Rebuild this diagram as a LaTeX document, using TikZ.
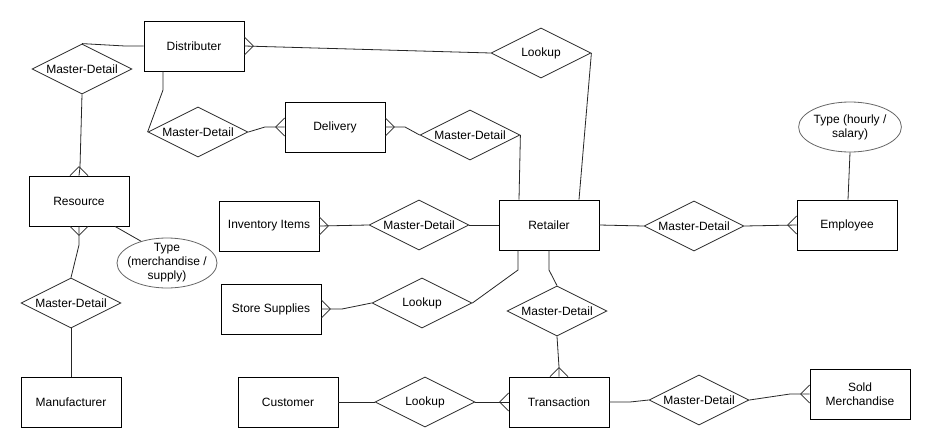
\documentclass[tikz,border=0pt]{standalone}
\usepackage{fontspec}
\setmainfont{Liberation Sans}
\usetikzlibrary{shapes.geometric,calc}
\newcommand\crowfoot[3]{\draw[conn] ($#1+#2$) -- ($#1+#3$) ($#1+#2$) -- ($#1-#3$);}
\begin{document}
\begin{tikzpicture}[x=1pt,y=-1pt,
  base/.style={font=\fontsize{12}{14}\selectfont, align=center, inner sep=0pt, line width=0.8pt},
  ent/.style={base, draw=black, rectangle, minimum width=100pt, minimum height=50pt},
  rel/.style={base, draw=black!85, diamond, aspect=2, minimum width=100pt, minimum height=50pt},
  attr/.style={base, draw=black!60, ellipse, minimum width=100pt, minimum height=50pt},
  conn/.style={draw=black!85, line width=0.8pt}]
\useasboundingbox[fill=white] (0,0) rectangle (949,447);
% entities
\node[ent] (dist) at (194,46) {Distributer};
\node[ent] (del) at (335,127) {Delivery};
\node[ent] (res) at (79,201) {Resource};
\node[ent] (man) at (71,402) {Manufacturer};
\node[ent] (inv) at (269,226) {Inventory Items};
\node[ent] (sto) at (271,309) {Store Supplies};
\node[ent] (cus) at (288,402) {Customer};
\node[ent] (ret) at (549,225) {Retailer};
\node[ent] (tra) at (559,402) {Transaction};
\node[ent] (emp) at (847,225) {Employee};
\node[ent] (sold) at (860,394) {Sold\\Merchandise};
% relationships
\node[rel] (md1) at (82,69) {Master-Detail};
\node[rel] (md2) at (198,132) {Master-Detail};
\node[rel] (lk1) at (541,53) {Lookup};
\node[rel] (md3) at (470,135) {Master-Detail};
\node[rel] (md4) at (419,225) {Master-Detail};
\node[rel] (lk2) at (422,303) {Lookup};
\node[rel] (md5) at (557,311) {Master-Detail};
\node[rel] (lk3) at (425,402) {Lookup};
\node[rel] (md6) at (694,226) {Master-Detail};
\node[rel] (md7) at (699,400) {Master-Detail};
\node[rel] (md8) at (71,303) {Master-Detail};
% attributes
\node[attr, inner xsep=-7.5pt, inner ysep=-4pt] (t1) at (167,263) {Type\\(merchandise /\\supply)};
\node[attr] (t2) at (850,127) {Type (hourly /\\salary)};
% bend points
\coordinate (b1) at (125,46);
\coordinate (b2) at (80,167);
\coordinate (b3) at (163,90);
\coordinate (b4) at (265,127);
\coordinate (b5) at (405,127);
\coordinate (b6) at (342,309);
\coordinate (b7) at (518,270);
\coordinate (b8) at (549,270);
\coordinate (b9) at (559,367);
\coordinate (b10) at (630,402);
\coordinate (b11) at (790,394);
\coordinate (b12) at (79,245);
% connectors
\draw[conn] (md1.north) -- (b1) -- (dist.west);
\draw[conn] (md1.south) -- (b2) -- (res.north);
\draw[conn] ([xshift=-31pt]dist.south) -- (b3) -- (md2.west);
\draw[conn] (md2.east) -- (b4) -- (del.west);
\draw[conn] (dist.east) -- (lk1.west);
\draw[conn] (lk1.east) -- ([xshift=30pt]ret.north);
\draw[conn] (del.east) -- (b5) -- (md3.west);
\draw[conn] (md3.east) -- ([xshift=-30pt]ret.north);
\draw[conn] (inv.east) -- (md4.west);
\draw[conn] (md4.east) -- (ret.west);
\draw[conn] (sto.east) -- (b6) -- (lk2.west);
\draw[conn] (lk2.east) -- (b7) -- ([xshift=-31pt]ret.south);
\draw[conn] (ret.south) -- (b8) -- (md5.north);
\draw[conn] (md5.south) -- (b9) -- (tra.north);
\draw[conn] (cus.east) -- (lk3.west);
\draw[conn] (lk3.east) -- (tra.west);
\draw[conn] (ret.east) -- (md6.west);
\draw[conn] (md6.east) -- (emp.west);
\draw[conn] (t2.south) -- ([xshift=1pt]emp.north);
\draw[conn] (tra.east) -- (b10) -- (md7.west);
\draw[conn] (md7.east) -- (b11) -- (sold.west);
\draw[conn] (res.south) -- (b12) -- (md8.north);
\draw[conn] (md8.south) -- (man.north);
\draw[conn] ([xshift=36pt]res.south) -- (t1.140);
% crow's feet
\crowfoot{(dist.east)}{(9,0)}{(0,9)}
\crowfoot{(del.west)}{(-9,0)}{(0,9)}
\crowfoot{(del.east)}{(9,0)}{(0,9)}
\crowfoot{(res.north)}{(0,-9)}{(9,0)}
\crowfoot{(res.south)}{(0,9)}{(9,0)}
\crowfoot{(inv.east)}{(9,0)}{(0,9)}
\crowfoot{(sto.east)}{(9,0)}{(0,9)}
\crowfoot{(tra.north)}{(0,-9)}{(9,0)}
\crowfoot{(tra.west)}{(-9,0)}{(0,9)}
\crowfoot{(emp.west)}{(-9,0)}{(0,9)}
\crowfoot{(sold.west)}{(-9,0)}{(0,9)}
\end{tikzpicture}
\end{document}
